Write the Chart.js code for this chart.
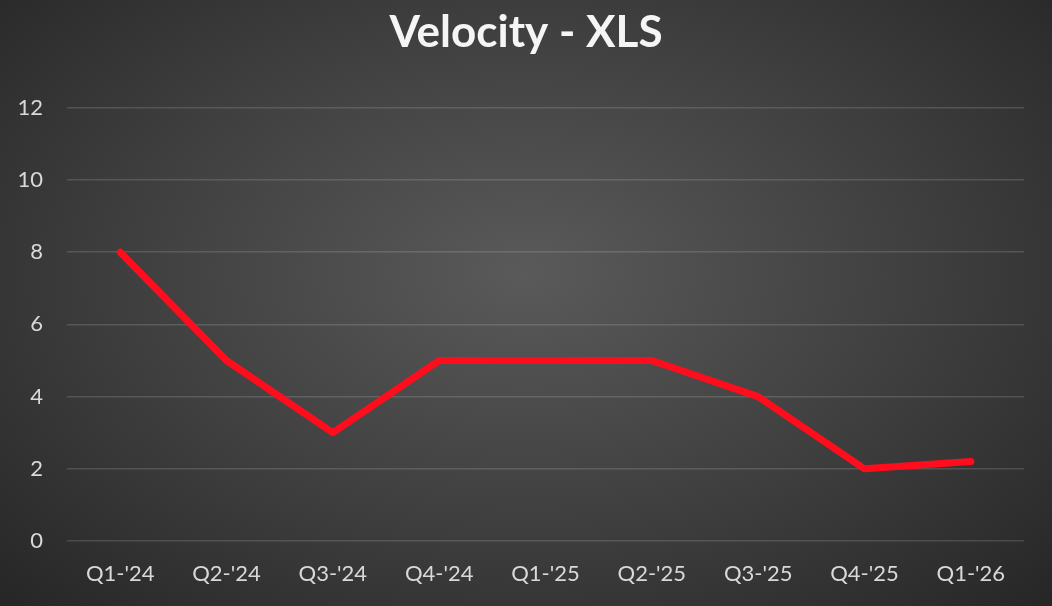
<!DOCTYPE html>
<html>
<head>
<meta charset="utf-8">
<script src="https://cdn.jsdelivr.net/npm/chart.js@4"></script>
<style>
  html, body { margin: 0; padding: 0; }
  #wrap {
    width: 1052px; height: 606px;
    background: radial-gradient(ellipse at 50% 45%, #5a5a5a 0%, #3e3e3e 55%, #262626 100%);
  }
</style>
</head>
<body>
<div id="wrap"><canvas id="velocityChart" width="1052" height="606"></canvas></div>
<script>
// Velocity per quarter
const quarters = ["Q1-'24", "Q2-'24", "Q3-'24", "Q4-'24", "Q1-'25", "Q2-'25", "Q3-'25", "Q4-'25", "Q1-'26"];
const velocity = [8, 5, 3, 5, 5, 5, 4, 2, 2.2];
const yTicks = [0, 2, 4, 6, 8, 10, 12];

const ctx = document.getElementById('velocityChart').getContext('2d');
const velocityChart = new Chart(ctx, {
    type: 'line',
    data: {
        labels: quarters,
        datasets: [{
            label: 'Velocity',
            data: velocity,
            borderColor: '#ff0d1d',
            borderWidth: 7,
            borderCapStyle: 'round',
            borderJoinStyle: 'round',
            tension: 0,
            fill: false,
            pointRadius: 0,
            pointHoverRadius: 0
        }]
    },
    options: {
        responsive: false,
        animation: false,
        layout: {
            padding: 0
        },
        plugins: {
            legend: { display: false },
            tooltip: { enabled: false },
            title: {
                display: true,
                text: 'Velocity - XLS',
                color: '#f5f5f5',
                font: { family: 'Lato', size: 44, weight: 'bold' },
                padding: { top: 6, bottom: 49 }
            }
        },
        scales: {
            x: {
                offset: true,
                afterFit: (scale) => { scale.height = 65; },
                grid: { display: false, drawTicks: false },
                border: { display: false },
                ticks: {
                    color: '#d9d9d9',
                    font: { family: 'Lato', size: 22 },
                    padding: 20,
                    maxRotation: 0,
                    autoSkip: false
                }
            },
            y: {
                min: 0,
                max: 12,
                afterFit: (scale) => { scale.width = 67; },
                afterBuildTicks: (scale) => { scale.ticks = yTicks.map(v => ({ value: v })); },
                grid: {
                    color: 'rgba(255,255,255,0.14)',
                    lineWidth: 1.5,
                    drawTicks: false
                },
                border: { display: false },
                ticks: {
                    color: '#d9d9d9',
                    font: { family: 'Lato', size: 22 },
                    padding: 24
                }
            },
            // empty right-hand axis, only keeps the right margin so the title stays centred
            yRight: {
                position: 'right',
                afterFit: (scale) => { scale.width = 28; },
                grid: { display: false, drawTicks: false },
                border: { display: false },
                ticks: { display: false }
            }
        }
    }
});
</script>
</body>
</html>
